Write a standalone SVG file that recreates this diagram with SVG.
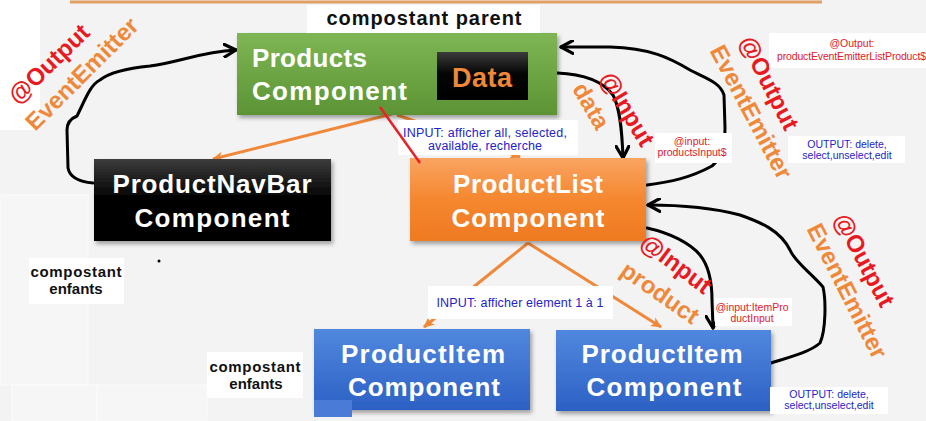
<svg xmlns="http://www.w3.org/2000/svg" width="926" height="421" viewBox="0 0 926 421">
<defs>
<style>
.comp{font-family:"Liberation Sans",Arial,sans-serif;font-weight:bold;font-size:26px;fill:#ffffff;}
.rot{font-family:"Liberation Sans",Arial,sans-serif;font-weight:bold;font-size:24px;text-anchor:middle;}
.red{fill:#e8191f;}
.org{fill:#f0883a;}
.small{font-family:"Liberation Sans",Arial,sans-serif;font-size:10.5px;text-anchor:middle;}
.mid{font-family:"Liberation Sans",Arial,sans-serif;font-size:12.5px;text-anchor:middle;fill:#2323c8;}
.blue{fill:#2323c8;}
.sred{fill:#e0202a;}
.lbl{font-family:"Liberation Sans",Arial,sans-serif;font-weight:bold;text-anchor:middle;fill:#111111;}
.wbox{fill:#ffffff;}
.curve{fill:none;stroke:#000000;stroke-width:3;stroke-linecap:round;stroke-linejoin:round;}
.oline{fill:none;stroke:#f0883a;stroke-width:3;}
</style>
<linearGradient id="gGreen" x1="0" y1="0" x2="0" y2="1">
<stop offset="0" stop-color="#7eb655"/><stop offset="1" stop-color="#5c9435"/>
</linearGradient>
<linearGradient id="gBlack" x1="0" y1="0" x2="0" y2="1">
<stop offset="0" stop-color="#3c3c3c"/><stop offset="0.45" stop-color="#050505"/><stop offset="1" stop-color="#000000"/>
</linearGradient>
<linearGradient id="gOrange" x1="0" y1="0" x2="0" y2="1">
<stop offset="0" stop-color="#f9a462"/><stop offset="0.5" stop-color="#f5872f"/><stop offset="1" stop-color="#ef7a22"/>
</linearGradient>
<linearGradient id="gBlue" x1="0" y1="0" x2="0" y2="1">
<stop offset="0" stop-color="#5188de"/><stop offset="1" stop-color="#2c60c4"/>
</linearGradient>
<filter id="shadow" x="-10%" y="-10%" width="120%" height="130%">
<feDropShadow dx="2" dy="3" stdDeviation="2" flood-color="#000000" flood-opacity="0.35"/>
</filter>
<marker id="blackArrow" viewBox="0 0 14 14" refX="12" refY="7" markerWidth="15" markerHeight="15" markerUnits="userSpaceOnUse" orient="auto">
<path d="M1,1 L12,7 L1,13" fill="none" stroke="#000000" stroke-width="3" stroke-linecap="round" stroke-linejoin="round"/>
</marker>
<marker id="orangeArrow" viewBox="0 0 12 12" refX="10" refY="6" markerWidth="12" markerHeight="12" markerUnits="userSpaceOnUse" orient="auto">
<path d="M0,1 L11,6 L0,11 L3,6 Z" fill="#f0883a"/>
</marker>
</defs>

<rect x="0" y="0" width="926" height="421" fill="#f3f3f3"/>
<rect x="0" y="0" width="40" height="130" fill="#ffffff"/>
<rect x="0" y="195" width="88" height="190" fill="#f6f6f6" stroke="#fbfbfb"/>
<rect x="12" y="385" width="85" height="36" fill="#f6f6f6" stroke="#fbfbfb"/>
<rect x="97" y="385" width="110" height="36" fill="#f6f6f6" stroke="#fbfbfb"/>
<line x1="70" y1="2" x2="822" y2="2" stroke="#e0a066" stroke-width="3"/>

<g id="connectors">
<path class="oline" d="M392,114 L213,159" marker-end="url(#orangeArrow)"/>
<path class="oline" d="M397,115 L520,157" marker-end="url(#orangeArrow)"/>
<path class="oline" d="M528,243 L424,327" marker-end="url(#orangeArrow)"/>
<path class="oline" d="M528,243 L661,327" marker-end="url(#orangeArrow)"/>
<path class="curve" d="M93,183 C80,182 70,178 68,168 L67,130 C67,122 72,118 77,116 C85,100 90,85 100,80 C110,72 130,68 150,66 C180,62 200,52 236,50" marker-end="url(#blackArrow)"/>
<path class="curve" d="M557,73 C582,74 602,80 613,95 C620,108 622,130 623,158" marker-end="url(#blackArrow)"/>
<path class="curve" d="M647,185 C670,182 690,178 712,166 C722,158 725,145 725,128 L724,95 C720,82 705,78 690,70 C670,58 650,48 610,47 L561,47" marker-end="url(#blackArrow)"/>
<path class="curve" d="M771,363 C790,357 810,352 820,343 C826,330 826,300 823,287 C810,272 795,262 790,250 C780,230 760,222 740,215 C710,207 680,205 648,205" marker-end="url(#blackArrow)"/>
<path class="curve" d="M647,228 C670,233 690,243 700,255 C708,265 712,280 712,300 L713,328" marker-end="url(#blackArrow)"/>
</g>

<g id="products">
<rect x="237" y="33" width="320" height="82" fill="url(#gGreen)" filter="url(#shadow)"/>
<text class="comp" x="252" y="67" textLength="115">Products</text>
<text class="comp" x="252" y="100" textLength="155">Component</text>
</g>
<g id="data">
<rect x="437" y="52" width="91" height="48" fill="url(#gBlack)"/>
<text x="482" y="87" font-family="Liberation Sans, Arial, sans-serif" font-weight="bold" font-size="27" fill="#f0883a" text-anchor="middle" textLength="60">Data</text>
</g>
<g id="navbar">
<rect x="94" y="159" width="237" height="82" fill="url(#gBlack)" filter="url(#shadow)"/>
<text class="comp" x="212" y="193" text-anchor="middle" textLength="199">ProductNavBar</text>
<text class="comp" x="212" y="227" text-anchor="middle" textLength="155">Component</text>
</g>
<g id="productlist">
<rect x="410" y="158" width="236" height="83" fill="url(#gOrange)" filter="url(#shadow)"/>
<text class="comp" x="528" y="193" text-anchor="middle" textLength="150">ProductList</text>
<text class="comp" x="528" y="227" text-anchor="middle" textLength="153">Component</text>
</g>
<g id="item1">
<rect x="314" y="329" width="216" height="81" fill="url(#gBlue)" filter="url(#shadow)"/>
<text class="comp" x="423" y="363" text-anchor="middle" textLength="164">ProductItem</text>
<text class="comp" x="424" y="396" text-anchor="middle" textLength="152">Component</text>
<rect x="314" y="400" width="38" height="17" fill="#4a7bd6"/>
</g>
<g id="item2">
<rect x="556" y="330" width="215" height="81" fill="url(#gBlue)" filter="url(#shadow)"/>
<text class="comp" x="662" y="363" text-anchor="middle" textLength="161">ProductItem</text>
<text class="comp" x="664" y="396" text-anchor="middle" textLength="155">Component</text>
</g>

<g id="labels">
<text class="rot red" transform="translate(49,64) rotate(-44)" y="8" font-size="23">@Output</text>
<text class="rot org" transform="translate(82,74) rotate(-45)" y="8">EventEmitter</text>

<text class="rot red" transform="translate(627,109) rotate(59)" y="8" font-size="25">@Input</text>
<text class="rot org" transform="translate(591,106) rotate(60)" y="8">data</text>

<text class="rot red" transform="translate(769,83) rotate(63)" y="8">@Output</text>
<text class="rot org" transform="translate(751,112) rotate(62)" y="8">EventEmitter</text>

<text class="rot red" transform="translate(676,264) rotate(37)" y="8" font-size="25">@Input</text>
<text class="rot org" transform="translate(660,293) rotate(35)" y="8" font-size="25">product</text>

<text class="rot red" transform="translate(864,260) rotate(62)" y="8">@Output</text>
<text class="rot org" transform="translate(847,291) rotate(63)" y="8">EventEmitter</text>

<rect class="wbox" x="307" y="5" width="233" height="28"/>
<text class="lbl" x="424" y="25" font-size="20" textLength="195">compostant parent</text>

<rect class="wbox" x="398" y="120" width="180" height="35"/>
<text class="mid" x="485" y="137" textLength="164">INPUT: afficher all, selected,</text>
<text class="mid" x="485" y="150" textLength="114">available, recherche</text>

<rect class="wbox" x="428" y="286" width="185" height="33"/>
<text class="mid" x="520" y="307" textLength="167">INPUT: afficher element 1 à 1</text>

<rect class="wbox" x="655" y="133" width="77" height="30"/>
<text class="small sred" x="692" y="145">@input:</text>
<text class="small sred" x="692" y="156" textLength="69">productsInput$</text>

<rect class="wbox" x="769" y="33" width="157" height="35"/>
<text class="small sred" x="852" y="47">@Output:</text>
<text class="small sred" x="851.5" y="60" font-size="10" textLength="149">productEventEmitterListProduct$</text>

<rect class="wbox" x="788" y="136" width="117" height="27"/>
<text class="small blue" x="847" y="148">OUTPUT: delete,</text>
<text class="small blue" x="847" y="159">select,unselect,edit</text>

<rect class="wbox" x="715" y="298" width="77" height="28"/>
<text class="small sred" x="752" y="311">@input:ItemPro</text>
<text class="small sred" x="752" y="322">ductInput</text>

<rect class="wbox" x="770" y="387" width="118" height="27"/>
<text class="small blue" x="829" y="398">OUTPUT: delete,</text>
<text class="small blue" x="829" y="409">select,unselect,edit</text>

<rect class="wbox" x="29" y="258" width="95" height="46"/>
<text class="lbl" x="76" y="277" font-size="15" textLength="91">compostant</text>
<text class="lbl" x="76" y="294" font-size="15">enfants</text>

<rect class="wbox" x="207" y="352" width="96" height="46"/>
<text class="lbl" x="255" y="372" font-size="15" textLength="91">compostant</text>
<text class="lbl" x="256" y="389" font-size="15">enfants</text>
</g>
<path d="M380,107 L420,163" stroke="#e8202a" stroke-width="2.5" fill="none"/>
<circle cx="159" cy="261" r="1.5" fill="#000000"/>
</svg>
